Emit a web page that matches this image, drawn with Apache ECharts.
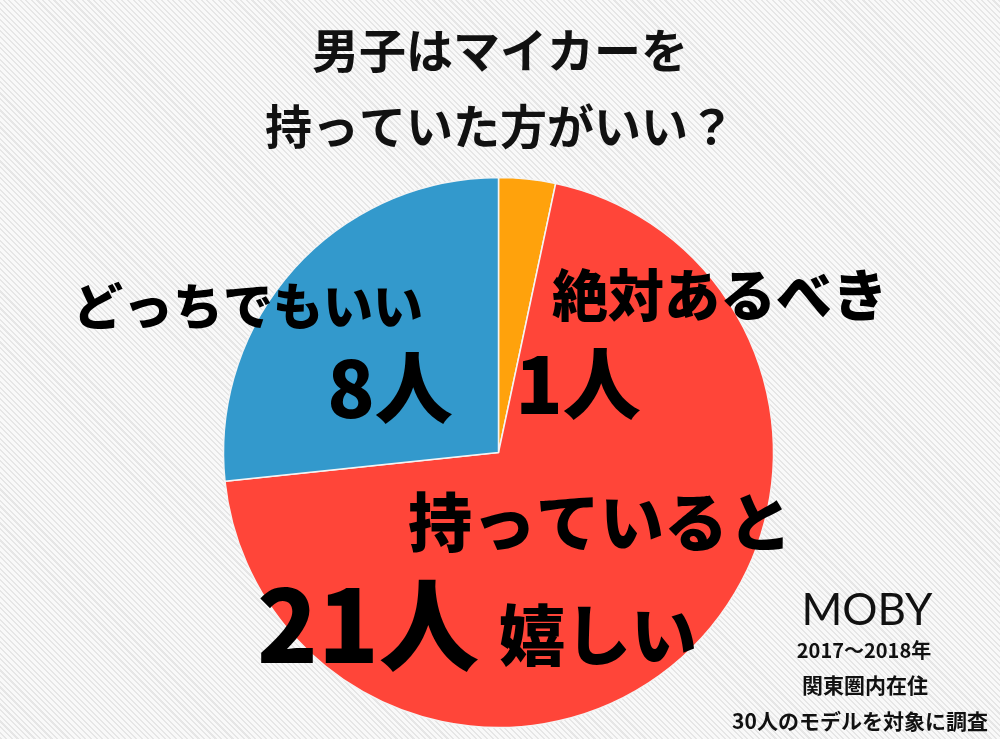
<!DOCTYPE html>
<html>
<head>
<meta charset="utf-8">
<script src="https://cdn.jsdelivr.net/npm/echarts@6/dist/echarts.min.js"></script>
<style>
html,body{margin:0;padding:0;width:1000px;height:739px;overflow:hidden;}
body{background:repeating-linear-gradient(45deg,#e6e6e6 0px,#e6e6e6 1.5px,#f9f9f9 1.5px,#f9f9f9 4px);}
#c{width:1000px;height:739px;}
</style>
</head>
<body>
<div id="c"></div>
<script>
const categories = ['絶対あるべき', '持っていると嬉しい', 'どっちでもいい'];
const counts = [1, 21, 8];
const colors = ['#FFA20C', '#FF4539', '#3399CC'];
const titleLines = ['男子はマイカーを', '持っていた方がいい？'];
const noteLines = ['2017～2018年', '関東圏内在住', '30人のモデルを対象に調査'];

const chart = echarts.init(document.getElementById('c'), null, {renderer: 'canvas'});
const JP = '"Noto Sans CJK JP", "Noto Sans", sans-serif';
function t(text, x, y, size, weight, extra) {
  return Object.assign({
    type: 'text', x: x, y: y, z: 100,
    style: Object.assign({
      text: text, fill: '#000', font: weight + ' ' + size + 'px ' + JP,
      align: 'center', verticalAlign: 'middle'
    }, (extra && extra.style) || {})
  }, (extra && extra.el) || {});
}
const option = {
  backgroundColor: 'transparent',
  animation: false,
  series: [{
    type: 'pie',
    center: [498.5, 452.5],
    radius: 275,
    startAngle: 90,
    clockwise: true,
    label: {show: false},
    labelLine: {show: false},
    emphasis: {disabled: true},
    itemStyle: {borderColor: '#f4f4f4', borderWidth: 1.5},
    data: categories.map((c, i) => ({name: c, value: counts[i], itemStyle: {color: colors[i]}}))
  }],
  graphic: [
    t(titleLines[0], 500, 50, 47, 'bold', {style: {fill: '#111'}}),
    t(titleLines[1], 500, 126, 47, 'bold', {style: {fill: '#111'}}),
    t('どっちでもいい', 248, 306, 50, 900),
    t(counts[2] + '人', 390, 388, 78, 900),
    t('絶対あるべき', 720, 295, 56, 900),
    t(counts[0] + '人', 578, 384, 78, 900),
    t('持っていると', 600, 522, 64, 900),
    t(counts[1] + '人', 368, 625, 100, 900),
    t('嬉しい', 598, 635, 66, 900),
    t('MOBY', 867, 611, 44, 400, {style: {fill: '#111', font: '400 44px Lato, "Open Sans", sans-serif'}}),
    t(noteLines[0], 864, 650, 20, 'bold', {style: {fill: '#111'}}),
    t(noteLines[1], 865, 685, 21, 'bold', {style: {fill: '#111'}}),
    t(noteLines[2], 860, 721, 21, 'bold', {style: {fill: '#111'}})
  ]
};
chart.setOption(option);
</script>
</body>
</html>
